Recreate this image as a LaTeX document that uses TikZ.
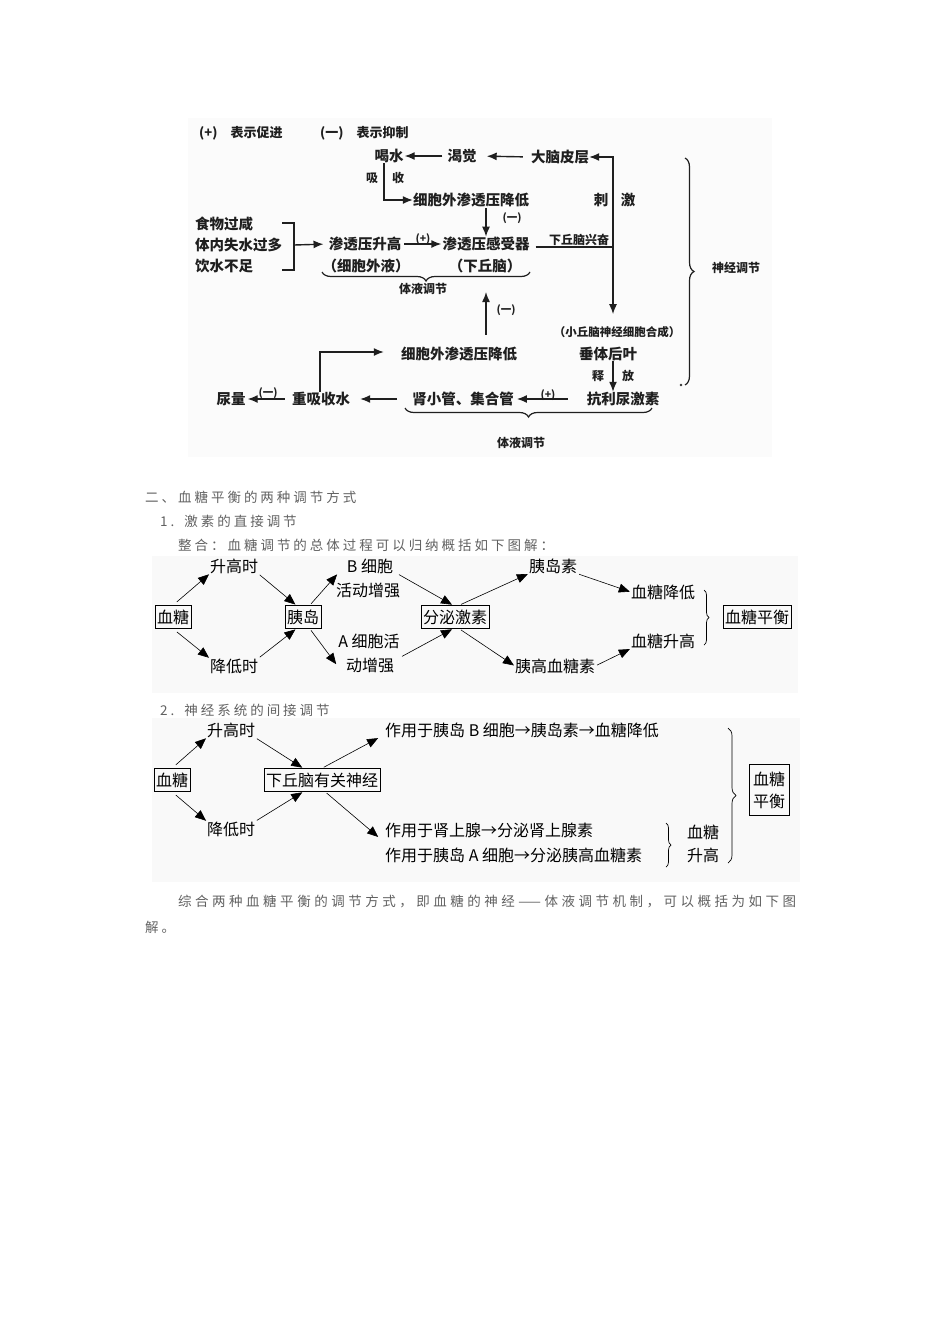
\documentclass[tikz,border=0pt]{standalone}
\usepackage{fontspec}
\setmainfont{Noto Sans CJK SC}
\usetikzlibrary{arrows.meta,decorations.pathreplacing,calc}
\begin{document}
\begin{tikzpicture}[x=1pt,y=-1pt,
  tb/.style={font=\fontsize{14.5}{16}\selectfont\bfseries, inner sep=0pt, text=black!88},
  ts/.style={font=\fontsize{12}{14}\selectfont\bfseries, inner sep=0pt, text=black!88},
  tx/.style={font=\fontsize{10.5}{12}\selectfont\bfseries, inner sep=0pt, text=black!88},
  tn/.style={font=\fontsize{16}{18}\selectfont, inner sep=0pt},
  bx/.style={draw, line width=0.8pt, inner xsep=2pt, inner ysep=4pt, font=\fontsize{16}{18}\selectfont},
  ga/.style={-{Latex[length=10pt,width=8pt]}, line width=1.4pt, black!88},
  gl/.style={line width=1.4pt, black!88},
  na/.style={-{Triangle[length=11pt,width=9pt]}, line width=0.6pt, shorten <=2pt, shorten >=1pt},
  gt/.style={font=\fontsize{13.5}{16}\selectfont\addfontfeature{LetterSpace=22}, text=black!62, inner sep=0pt, anchor=west},
  gtp/.style={font=\fontsize{13.5}{16}\selectfont\addfontfeature{LetterSpace=26}, text=black!62, inner sep=0pt, anchor=west},
  gbrace/.style={decorate, decoration={brace, amplitude=#1}, line width=1.2pt, black!88},
  nbrace/.style={decorate, decoration={brace, amplitude=#1}, line width=0.7pt},
]
\useasboundingbox (0,0) rectangle (950,1344);
% backgrounds
\fill[black!1.5] (188,118) rectangle (772,457);
\fill[black!2.5] (152,556) rectangle (798,693);
\fill[black!2.5] (152,718) rectangle (800,882);

% ===== top diagram =====
\node[ts, font=\fontsize{13}{15}\selectfont\bfseries, anchor=west] (lg1) at (199,133) {(+)\hspace{13pt}表示促进};
\node[ts, font=\fontsize{13}{15}\selectfont\bfseries, anchor=west] (lg2) at (320,133) {(一)\hspace{13pt}表示抑制};

\node[tb] (he) at (389,156) {喝水};
\node[tb] (kj) at (462,156) {渴觉};
\node[tb] (dn) at (560,157) {大脑皮层};
\node[tb] (xs) at (471,200) {细胞外渗透压降低};
\node[tb] (gs) at (486,244) {渗透压感受器};
\node[tb] (xq) at (485,266) {（下丘脑）};
\node[tb] (sg) at (365,244) {渗透压升高};
\node[tb] (xw) at (366,266) {（细胞外液）};
\node[tb, anchor=west] (f1) at (195,224) {食物过咸};
\node[tb, anchor=west] (f2) at (195,245) {体内失水过多};
\node[tb, anchor=west] (f3) at (195,266) {饮水不足};
\node[tb] (ci) at (601,200) {刺};
\node[tb] (ji) at (628,200) {激};
\node[ts] (xi) at (372,178) {吸};
\node[ts] (sh) at (398,178) {收};
\node[ts] (xqx) at (579,240) {下丘脑兴奋};
\node[ts] (sjtj) at (736,268) {神经调节};
\node[ts] (ty1) at (423,289) {体液调节};
\node[tx, font=\fontsize{11.5}{13}\selectfont\bfseries] (xqs) at (617,332) {（小丘脑神经细胞合成）};
\node[tb] (cth) at (608,354) {垂体后叶};
\node[ts] (shi) at (598,376) {释};
\node[ts] (fang) at (628,376) {放};
\node[tb] (kl) at (623,399) {抗利尿激素};
\node[tb] (sx) at (463,399) {肾小管、集合管};
\node[tb] (cx) at (321,399) {重吸收水};
\node[tb] (ny) at (231,399) {尿量};
\node[tb] (xs2) at (459,354) {细胞外渗透压降低};
\node[ts] (ty2) at (521,443) {体液调节};
\node[tx] (pa) at (423,239) {(+)};
\node[tx] (ma) at (512,218) {(一)};
\node[tx] (mb) at (506,310) {(一)};
\node[tx] (pb) at (548,395) {(+)};
\node[tx] (mc) at (268,393) {(一)};
\fill[black!80] (681,385) circle (1.3);

\coordinate (hc) at (384,200);
\coordinate (br) at (294,245);
\coordinate (j) at (613,247);
\coordinate (tp) at (613,157);
\coordinate (cu) at (320,352);
\coordinate (c1) at (486,292);

\draw[ga, shorten <=5pt, shorten >=1pt] (kj.west) -- (he.east);
\draw[ga, shorten <=8pt, shorten >=10pt] (dn.west) -- (kj.east);
\draw[ga] ([xshift=-5pt]he.south) -- (hc) -- (xs.west);
\draw[ga, shorten <=1pt] (xs.south -| gs.north) -- (gs.north);
\draw[gl, line width=1.2pt] (282,223) -- (294,223) -- (294,270) -- (282,270);
\draw[ga, shorten >=5pt] (br) -- (sg.west);
\draw[ga, shorten <=3pt, shorten >=1pt] (sg.east) -- (gs.west);
\draw[gl, shorten <=6pt] (gs.east |- j) -- (j);
\draw[ga] (j) -- (tp) -- (dn.east);
\draw[ga, shorten >=12pt] (j) -- (xqs.north -| j);
\draw[ga] (cth.south -| j) -- (kl.north -| j);
\draw[ga, shorten <=19pt, shorten >=3pt] (kl.west) -- (sx.east);
\draw[ga, shorten <=15pt, shorten >=10pt] (sx.west) -- (cx.east);
\draw[ga, shorten <=7pt, shorten >=2pt] (cx.west) -- (ny.east);
\draw[ga, shorten >=17pt] ([xshift=-1pt]cx.north) -- (cu) -- (cu -| xs2.west);
\draw[ga, shorten <=12pt] (xs2.north -| gs.south) -- (c1);

\draw[gbrace=9] (530,272) -- (322,272);
\draw[gbrace=9] (652,408) -- (405,408);
\draw[gbrace=9] (685,158) -- (685,385);

% ===== section text =====
\node[gt] (h1) at (145,497) {二、血糖平衡的两种调节方式};
\node[gt] (h2) at (160,521) {1.\hspace{10pt}激素的直接调节};
\node[gt] (h3) at (178,545) {整合：血糖调节的总体过程可以归纳概括如下图解：};
\node[gt] (h4) at (160,710) {2.\hspace{10pt}神经系统的间接调节};
\node[gtp] (pp1) at (178,901) {综合两种血糖平衡的调节方式，即血糖的神经——体液调节机制，可以概括为如下图};
\node[gt] (pp2) at (145,927) {解。};

% ===== diagram 2 =====
\node[bx] (xt) at (173,617) {血糖};
\node[tn] (sgs) at (234,566) {升高时};
\node[tn] (jds) at (234,666) {降低时};
\node[bx] (yd) at (303,617) {胰岛};
\node[tn] (bxb) at (370,566) {B 细胞};
\node[tn] (hdzq) at (368,590) {活动增强};
\node[tn] (axh) at (369,641) {A 细胞活};
\node[tn] (dzq) at (370,665) {动增强};
\node[bx] (fm) at (455,617) {分泌激素};
\node[tn] (yds) at (553,566) {胰岛素};
\node[tn] (ygx) at (555,666) {胰高血糖素};
\node[tn] (xtjd) at (663,592) {血糖降低};
\node[tn] (xtsg) at (663,641) {血糖升高};
\node[bx] (xtph) at (757,617) {血糖平衡};

\draw[na, shorten <=5pt] (xt.north) -- (sgs.south west);
\draw[na] (sgs.south east) -- (yd.120);
\draw[na, shorten <=5pt] (xt.south) -- (jds.north west);
\draw[na] (jds.north east) -- (yd.240);
\draw[na] (yd.60) -- ([xshift=-9pt]bxb.south west);
\draw[na] ([xshift=4pt]bxb.south east) -- (fm.100);
\draw[na] (yd.300) -- ([xshift=-9pt]dzq.west);
\draw[na] ([xshift=6pt]dzq.north east) -- (fm.260);
\draw[na] (fm.70) -- (yds.south west);
\draw[na] (yds.south east) -- (xtjd.west);
\draw[na] (fm.290) -- (ygx.west);
\draw[na] (ygx.east) -- (xtsg.south west);
\draw[nbrace=5] (704,590) -- (704,645);

% ===== diagram 3 =====
\node[bx] (xt3) at (172,780) {血糖};
\node[tn] (sgs3) at (231,730) {升高时};
\node[tn] (jds3) at (231,829) {降低时};
\node[bx] (xq3) at (322,780) {下丘脑有关神经};
\node[tn, anchor=west] (t1) at (385,730) {作用于胰岛 B 细胞→胰岛素→血糖降低};
\node[tn, anchor=west] (t2) at (385,830) {作用于肾上腺→分泌肾上腺素};
\node[tn, anchor=west] (t3) at (385,855) {作用于胰岛 A 细胞→分泌胰高血糖素};
\node[tn] (xtb) at (703,832) {血糖};
\node[tn] (sgb) at (703,855) {升高};
\node[bx, align=center, inner xsep=4pt, inner ysep=7pt, font=\fontsize{16}{22}\selectfont] (ph3) at (769,790) {血糖\\平衡};

\draw[na, shorten <=5pt] (xt3.north) -- (sgs3.south west);
\draw[na] (sgs3.south east) -- (xq3.148);
\draw[na, shorten <=5pt] (xt3.south) -- (jds3.north west);
\draw[na] (jds3.north east) -- (xq3.212);
\draw[na] (xq3.north) -- ([xshift=-6pt]t1.south west);
\draw[na] (xq3.-75) -- ([xshift=-6pt]t2.south west);
\draw[nbrace=5] (666,823) -- (666,867);
\draw[nbrace=8] (728,728) -- (728,863);
\end{tikzpicture}
\end{document}
